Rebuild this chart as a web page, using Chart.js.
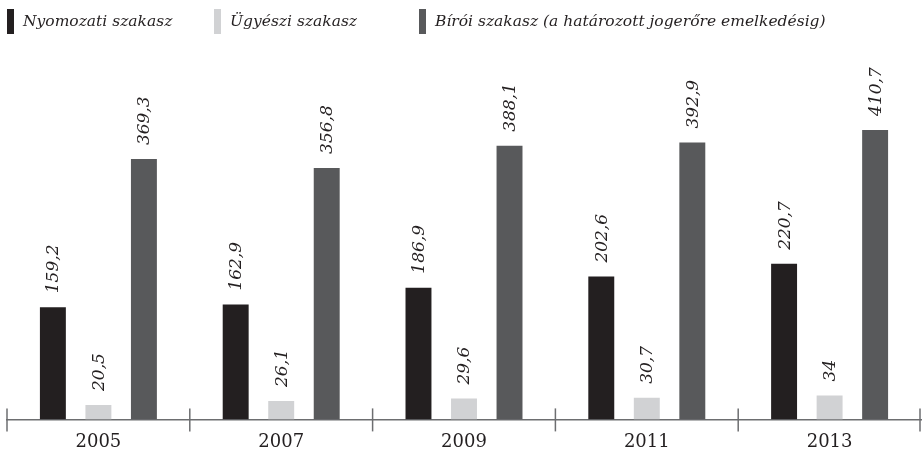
<!DOCTYPE html>
<html>
<head>
<meta charset="utf-8">
<script src="https://cdn.jsdelivr.net/npm/chart.js@4/dist/chart.umd.min.js"></script>
<style>
  body { margin: 0; background: #fff; }
  #wrap { position: relative; width: 922px; height: 453px; overflow: hidden; }
  #legend { position: absolute; top: 0; left: 0; width: 922px; height: 40px;
            font: italic 15.5px "DejaVu Serif", serif; color: #231f20; }
  .item { position: absolute; top: 9px; height: 25px; line-height: 25px; white-space: nowrap; }
  .item i { position: absolute; left: 0; top: 0; width: 7px; height: 25px; }
  .item span { position: absolute; left: 16px; top: 0; }
</style>
</head>
<body>
<div id="wrap">
  <div id="legend"></div>
  <canvas id="chart" width="922" height="453"></canvas>
</div>
<script>
const years = ['2005', '2007', '2009', '2011', '2013'];
const nyomozati = [159.2, 162.9, 186.9, 202.6, 220.7];
const ugyeszi = [20.5, 26.1, 29.6, 30.7, 34];
const biroi = [369.3, 356.8, 388.1, 392.9, 410.7];

const seriesNames = ['Nyomozati szakasz', 'Ügyészi szakasz', 'Bírói szakasz (a határozott jogerőre emelkedésig)'];
const seriesColors = ['#231f20', '#d1d2d4', '#58595b'];
const legendX = [7, 214, 419];

// legend above the plot
const legend = document.getElementById('legend');
seriesNames.forEach((name, i) => {
    const el = document.createElement('div');
    el.className = 'item';
    el.style.left = legendX[i] + 'px';
    el.innerHTML = '<i style="background:' + seriesColors[i] + '"></i><span>' + name + '</span>';
    legend.appendChild(el);
});

// rotated value labels above every bar
const valueLabels = {
    id: 'valueLabels',
    afterDatasetsDraw(chart) {
        const ctx = chart.ctx;
        ctx.save();
        ctx.font = 'italic 17px "DejaVu Serif", serif';
        ctx.fillStyle = '#231f20';
        ctx.textAlign = 'left';
        ctx.textBaseline = 'middle';
        chart.data.datasets.forEach((ds, di) => {
            chart.getDatasetMeta(di).data.forEach((bar, i) => {
                const txt = String(ds.data[i]).replace('.', ',');
                ctx.save();
                ctx.translate(bar.x + 1, bar.y - 14);
                ctx.rotate(-Math.PI / 2);
                ctx.fillText(txt, 0, 0);
                ctx.restore();
            });
        });
        ctx.restore();
    }
};

// short tick marks at the category boundaries
const boundaryTicks = {
    id: 'boundaryTicks',
    afterDraw(chart) {
        const x = chart.scales.x;
        const ctx = chart.ctx;
        const step = (x.right - x.left) / years.length;
        ctx.save();
        ctx.strokeStyle = '#6d6e70';
        ctx.lineWidth = 1.5;
        for (let i = 0; i <= years.length; i++) {
            let px = x.left + step * i;
            if (i === years.length) px -= 1;
            ctx.beginPath();
            ctx.moveTo(px, x.top - 11);
            ctx.lineTo(px, x.top + 12);
            ctx.stroke();
        }
        ctx.restore();
    }
};

new Chart(document.getElementById('chart').getContext('2d'), {
    type: 'bar',
    data: {
        labels: years,
        datasets: [
            { label: seriesNames[0], data: nyomozati, backgroundColor: seriesColors[0] },
            { label: seriesNames[1], data: ugyeszi, backgroundColor: seriesColors[1] },
            { label: seriesNames[2], data: biroi, backgroundColor: seriesColors[2] }
        ]
    },
    options: {
        responsive: false,
        animation: false,
        datasets: { bar: { categoryPercentage: 0.747, barPercentage: 0.57 } },
        layout: { padding: { top: 67, left: 7, right: 1, bottom: -12 } },
        plugins: {
            legend: { display: false },
            tooltip: { enabled: false }
        },
        scales: {
            x: {
                grid: { display: false, drawTicks: false },
                border: { display: true, color: '#6d6e70', width: 1.5 },
                ticks: {
                    color: '#231f20',
                    font: { family: '"DejaVu Serif", serif', size: 18 },
                    padding: 12
                }
            },
            y: {
                display: false,
                min: 0,
                max: 500
            }
        }
    },
    plugins: [valueLabels, boundaryTicks]
});
</script>
</body>
</html>
